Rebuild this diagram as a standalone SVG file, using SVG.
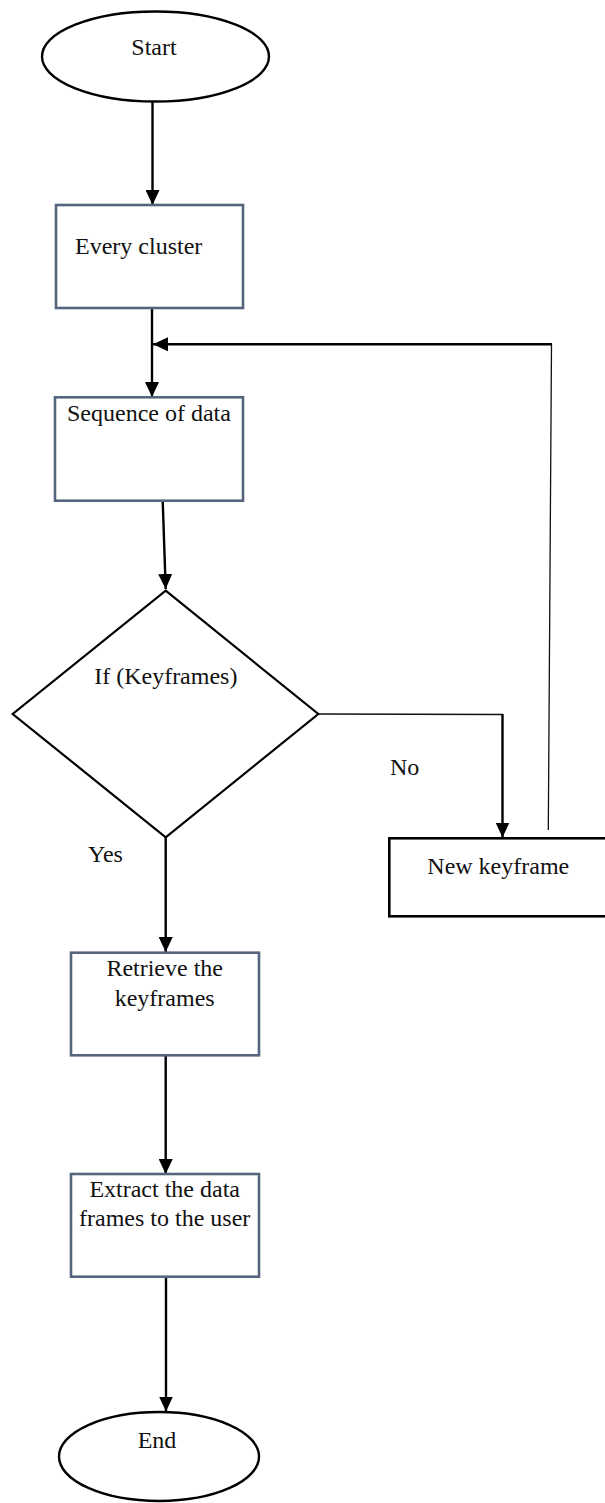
<svg xmlns="http://www.w3.org/2000/svg" width="605" height="1503" viewBox="0 0 605 1503">
  <style>
    .bg { fill: #ffffff; }
    .term { fill: #ffffff; stroke: #000000; stroke-width: 2.4; }
    .box { fill: #ffffff; stroke: #56657e; stroke-width: 2.6; }
    .boxk { fill: #ffffff; stroke: #000000; stroke-width: 2.6; }
    .dec { fill: #ffffff; stroke: #000000; stroke-width: 2.2; }
    .lbl { font-family: "Liberation Serif", "Times New Roman", serif; font-size: 24px; fill: #111111; }
    .mid { text-anchor: middle; }
    .flow { fill: none; stroke: #000000; stroke-width: 2.4; }
    .thin { fill: none; stroke: #111111; stroke-width: 1.3; }
  </style>
  <defs>
    <marker id="head" viewBox="0 0 15 14" markerWidth="15" markerHeight="14" refX="15" refY="7" orient="auto" markerUnits="userSpaceOnUse">
      <path d="M0,0 L15,7 L0,14 Z" fill="#000000"/>
    </marker>
  </defs>

  <rect class="bg" x="0" y="0" width="605" height="1503"/>

  <!-- connectors -->
  <g id="connectors">
    <line class="flow" x1="152.5" y1="101" x2="152.5" y2="205" marker-end="url(#head)"/>
    <line class="flow" x1="152" y1="308" x2="152" y2="397" marker-end="url(#head)"/>
    <line class="flow" x1="162.7" y1="500.7" x2="165.7" y2="589" marker-end="url(#head)"/>
    <!-- No branch -->
    <line class="thin" x1="318" y1="714" x2="503" y2="714.5"/>
    <line class="flow" x1="502.5" y1="714" x2="502.5" y2="837.5" marker-end="url(#head)"/>
    <!-- loop back to the sequence step -->
    <line class="thin" x1="548.3" y1="830" x2="551.5" y2="344.3"/>
    <line class="flow" x1="552" y1="344.3" x2="153" y2="344.3" marker-end="url(#head)"/>
    <!-- Yes branch -->
    <line class="flow" x1="165.7" y1="837" x2="165.7" y2="952" marker-end="url(#head)"/>
    <line class="flow" x1="165.7" y1="1055" x2="165.7" y2="1174" marker-end="url(#head)"/>
    <line class="flow" x1="166" y1="1277" x2="166" y2="1411.5" marker-end="url(#head)"/>
  </g>

  <g id="start">
    <ellipse class="term" cx="155.5" cy="56.5" rx="113.5" ry="45"/>
    <text class="lbl mid" x="154" y="55">Start</text>
  </g>

  <g id="every-cluster">
    <rect class="box" x="56" y="205" width="187" height="103"/>
    <text class="lbl" x="75" y="254">Every cluster</text>
  </g>

  <g id="sequence">
    <rect class="box" x="55" y="397.3" width="188" height="103.4"/>
    <text class="lbl" x="67" y="421">Sequence of data</text>
  </g>

  <g id="decision">
    <polygon class="dec" points="165.7,590.7 318.3,714 165.7,837.3 12.7,714"/>
    <text class="lbl mid" x="165.8" y="684">If (Keyframes)</text>
  </g>

  <g id="label-no">
    <text class="lbl" x="390" y="775">No</text>
  </g>

  <g id="label-yes">
    <text class="lbl" x="88" y="862">Yes</text>
  </g>

  <g id="new-keyframe">
    <rect class="boxk" x="389.3" y="838.3" width="230" height="78"/>
    <text class="lbl" x="427.3" y="874.3">New keyframe</text>
  </g>

  <g id="retrieve">
    <rect class="box" x="71" y="952.7" width="188" height="102.6"/>
    <text class="lbl mid" x="164.7" y="975.7">Retrieve the</text>
    <text class="lbl mid" x="164.7" y="1005.7">keyframes</text>
  </g>

  <g id="extract">
    <rect class="box" x="71" y="1174" width="188" height="102.7"/>
    <text class="lbl mid" x="164.7" y="1196.7">Extract the data</text>
    <text class="lbl mid" x="164.7" y="1225.7">frames to the user</text>
  </g>

  <g id="end">
    <ellipse class="term" cx="159" cy="1456.5" rx="100" ry="44.5"/>
    <text class="lbl mid" x="157" y="1448">End</text>
  </g>
</svg>
